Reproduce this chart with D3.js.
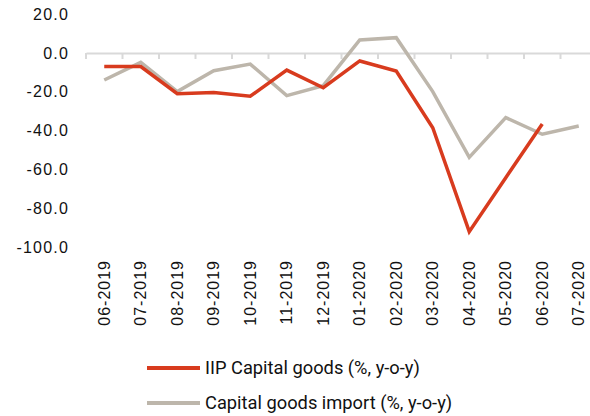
<!DOCTYPE html>
<html>
<head>
<meta charset="utf-8">
<script src="https://cdn.jsdelivr.net/npm/d3@7"></script>
<style>
  body { margin: 0; background: #fff; }
  svg { display: block; }
</style>
</head>
<body>
<div id="chart-area"></div>
<script>
let months = ['06-2019', '07-2019', '08-2019', '09-2019', '10-2019', '11-2019', '12-2019',
  '01-2020', '02-2020', '03-2020', '04-2020', '05-2020', '06-2020', '07-2020'];
let iipCapital = [-6.9, -7.0, -21.0, -20.4, -22.3, -8.8, -17.9, -4.1, -9.3, -38.5, -92.1, -64.3, -36.6, null];
let capImport = [-13.9, -4.8, -19.9, -9.1, -5.7, -22.0, -16.8, 6.7, 7.9, -19.9, -53.8, -33.3, -41.9, -37.6];
let yTicks = [20, 0, -20, -40, -60, -80, -100];

let series = [
  { name: 'IIP Capital goods (%, y-o-y)', values: iipCapital, color: '#d83b1e' },
  { name: 'Capital goods import (%, y-o-y)', values: capImport, color: '#bdb6ab' }
];

let width = 590, height = 416;

let svg = d3.select('#chart-area').append('svg')
  .attr('width', width)
  .attr('height', height);

let x = d3.scaleBand()
  .domain(months)
  .range([86, 597]);

let y = d3.scaleLinear()
  .domain([-100, 20])
  .range([247, 14.2]);

// y labels
svg.append('g')
  .selectAll('text')
  .data(yTicks)
  .enter()
  .append('text')
  .attr('x', 69)
  .attr('y', d => y(d))
  .attr('dy', '0.35em')
  .attr('text-anchor', 'end')
  .attr('font-family', 'Liberation Sans, Arial, sans-serif')
  .attr('font-size', 16)
  .attr('letter-spacing', 1.2)
  .attr('fill', '#111')
  .text(d => d.toFixed(1));

// x axis on zero line
let bottomAxis = d3.axisBottom(x).tickSize(0).tickFormat('');
let xg = svg.append('g')
  .attr('transform', `translate(0, ${y(0)})`)
  .call(bottomAxis);
xg.select('.domain').attr('stroke', '#d9d9d9').attr('stroke-width', 2);

let tickPos = months.map(m => x(m)).concat([x.range()[1]]);
xg.selectAll('line.tk')
  .data(tickPos)
  .enter()
  .append('line')
  .attr('class', 'tk')
  .attr('x1', d => d).attr('x2', d => d)
  .attr('y1', 0).attr('y2', 6)
  .attr('stroke', '#d9d9d9')
  .attr('stroke-width', 2);

// x labels, rotated
svg.append('g')
  .selectAll('text')
  .data(months)
  .enter()
  .append('text')
  .attr('transform', d => `translate(${x(d) + x.bandwidth() / 2}, 260) rotate(-90)`)
  .attr('dy', '0.35em')
  .attr('text-anchor', 'end')
  .attr('font-family', 'Liberation Sans, Arial, sans-serif')
  .attr('font-size', 16)
  .attr('letter-spacing', 1.0)
  .attr('fill', '#111')
  .text(d => d);

// lines
let line = d3.line()
  .defined(d => d.v !== null)
  .x(d => x(d.m) + x.bandwidth() / 2)
  .y(d => y(d.v));

series.slice().reverse().forEach(s => {
  svg.append('path')
    .datum(months.map((m, i) => ({ m: m, v: s.values[i] })))
    .attr('fill', 'none')
    .attr('stroke', s.color)
    .attr('stroke-width', 3.5)
    .attr('stroke-linejoin', 'miter')
    .attr('d', line);
});

// legend
let legend = svg.append('g')
  .selectAll('g')
  .data(series)
  .enter()
  .append('g')
  .attr('transform', (d, i) => `translate(147, ${368 + i * 35})`);

legend.append('line')
  .attr('x1', 0).attr('x2', 53)
  .attr('stroke', d => d.color)
  .attr('stroke-width', 4);

legend.append('text')
  .attr('x', 58)
  .attr('dy', '0.35em')
  .attr('font-family', 'Roboto, sans-serif')
  .attr('font-size', 18.3)
  .attr('fill', '#111')
  .text(d => d.name);
</script>
</body>
</html>
